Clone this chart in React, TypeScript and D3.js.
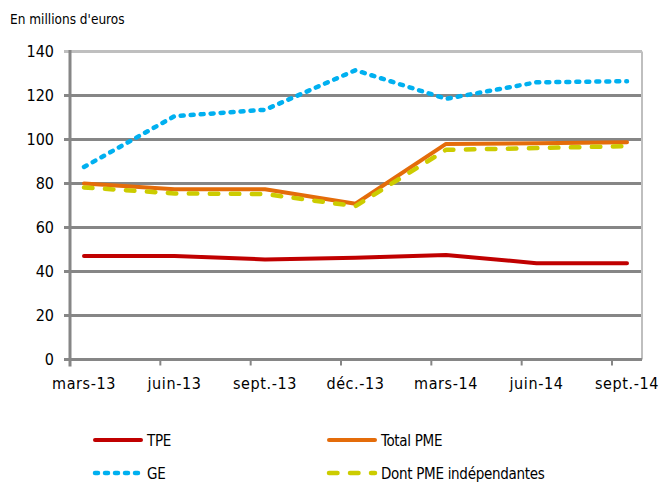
import React from "react";
import * as d3 from "d3";

const categories = ["mars-13", "juin-13", "sept.-13", "déc.-13", "mars-14", "juin-14", "sept.-14"];
const tpe = [47, 47, 45.5, 46.3, 47.5, 43.8, 43.8];
const totalPme = [80, 77.4, 77.4, 70.8, 98, 98.3, 98.8];
const ge = [87.5, 110.6, 113.5, 131.5, 118.5, 126, 126.5];
const dontPme = [78.2, 75.5, 75.2, 69.7, 95.3, 96.1, 97];
const yTicks = [0, 20, 40, 60, 80, 100, 120, 140];

const W = 662, H = 483;
const left = 70, right = 642, top = 51.5, bottom = 359.5;
const font = "'DejaVu Sans Condensed', 'DejaVu Sans', sans-serif";

export default function App() {
  const y = d3.scaleLinear().domain([0, 140]).range([bottom, top]);
  const xTick = d3.scalePoint<string>().domain(categories).range([70, 612]);
  const xData = d3.scalePoint<string>().domain(categories).range([84, 627]);
  const line = d3.line<number>().x((_, i) => xData(categories[i])!).y((d) => y(d));

  const series = [
    { name: "TPE", data: tpe, color: "#c00000", dash: "", w: 4 },
    { name: "Total PME", data: totalPme, color: "#e46c0a", dash: "", w: 4 },
    { name: "GE", data: ge, color: "#00b0f0", dash: "3 7", w: 4.5 },
    { name: "Dont PME indépendantes", data: dontPme, color: "#cccc00", dash: "8.5 12.5", w: 4.5 },
  ];
  const drawOrder = [series[2], series[1], series[3], series[0]];
  const legend = [
    { s: series[0], x: 93, y: 440 },
    { s: series[1], x: 327, y: 440 },
    { s: series[2], x: 93, y: 473 },
    { s: series[3], x: 327, y: 473 },
  ];

  return (
    <svg width={W} height={H} style={{ position: "absolute", left: 0, top: 0, background: "#fff" }}>
      <text x={10} y={24} fontFamily={font} fontSize={13.5} fill="#000">En millions d'euros</text>
      {yTicks.map((t) => (
        <g key={t}>
          <line x1={64} x2={right} y1={y(t)} y2={y(t)} stroke={t === 140 ? "#bfbfbf" : "#868686"} strokeWidth={3} />
          <text x={54} y={y(t) + 5.5} textAnchor="end" fontFamily={font} fontSize={16} fill="#000">{t}</text>
        </g>
      ))}
      <line x1={right} x2={right} y1={top} y2={bottom} stroke="#bfbfbf" strokeWidth={2} />
      <line x1={left} x2={left} y1={top - 1.5} y2={bottom + 7} stroke="#868686" strokeWidth={3} />
      <line x1={left} x2={right} y1={bottom} y2={bottom} stroke="#868686" strokeWidth={3} />
      {categories.map((c) => (
        <g key={c}>
          <line x1={xTick(c)!} x2={xTick(c)!} y1={bottom} y2={bottom + 6} stroke="#868686" strokeWidth={2} />
          <text x={xData(c)!} y={bottom + 29} textAnchor="middle" fontFamily={font} fontSize={16}
            letterSpacing={0.6} fill="#000">{c}</text>
        </g>
      ))}
      {drawOrder.map((s) => (
        <path key={s.name} d={line(s.data)!} fill="none" stroke={s.color} strokeWidth={s.w}
          strokeDasharray={s.dash || undefined} strokeLinecap="round" strokeLinejoin="round" />
      ))}
      {legend.map(({ s, x, y: ly }) => (
        <g key={s.name}>
          <line x1={x + 2} x2={x + 48} y1={ly} y2={ly} stroke={s.color} strokeWidth={s.w}
            strokeDasharray={s.dash || undefined} strokeLinecap="round" />
          <text x={x + 54} y={ly + 6} fontFamily={font} fontSize={15} letterSpacing={-0.3} fill="#000">{s.name}</text>
        </g>
      ))}
    </svg>
  );
}
